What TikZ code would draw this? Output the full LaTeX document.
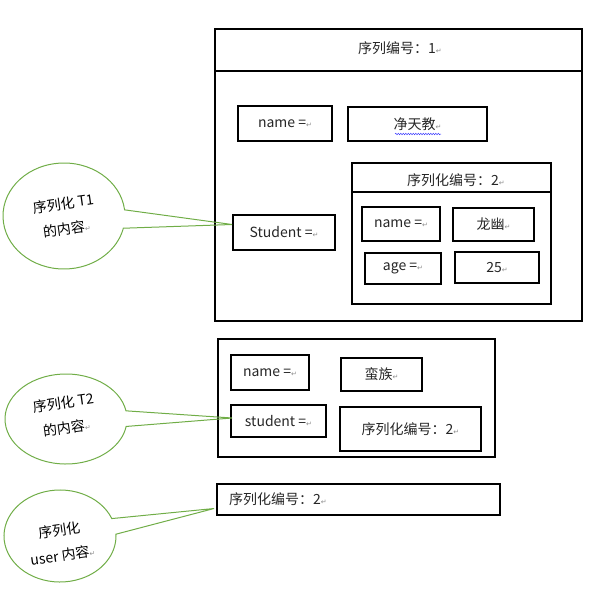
\documentclass[tikz,border=0pt]{standalone}
\usepackage{fontspec}
\setmainfont{Noto Sans CJK SC}
\newfontfamily\symf{DejaVu Sans}
\usetikzlibrary{shapes.callouts,decorations.pathmorphing}
\newcommand\ret{{\symf\color{black!45}\fontsize{7}{7}\selectfont ↵}}
\begin{document}
\begin{tikzpicture}[x=1pt,y=-1pt,line join=miter,font=\fontsize{14}{18}\selectfont,
	box/.style={draw,line width=1.9pt,inner sep=0pt,text=black!85},
	say/.style={ellipse callout,draw=callgreen,line width=1pt,callout pointer arc=20},
	word/.style={text=black!85,inner sep=0pt},
	tilt/.style={rotate=8,align=center,inner sep=0pt,font=\fontsize{14}{25}\selectfont}]
	\definecolor{callgreen}{RGB}{112,173,71}
	\useasboundingbox (0,0) rectangle (602,594);
	
	% T1
	\node[box,minimum width=367pt,minimum height=292pt] (b1) at (398.5,175) {};
	\draw[line width=1.9pt] ([yshift=-43pt]b1.north west) -- ([yshift=-43pt]b1.north east);
	\node[word] (h1) at (400,48) {序列编号：1\ret};
	\node[box,minimum width=94pt,minimum height=35pt] (n1) at (285,123.5) {name =\ret};
	\node[box,minimum width=139pt,minimum height=34pt] (v1) at (417.5,124) {净天教\ret};
	\draw[blue!75,line width=.5pt,decorate,decoration={snake,amplitude=.7pt,segment length=2.5pt}]
		(395,134) -- (441,134);
	\node[box,minimum width=102pt,minimum height=35pt] (s1) at (284,232.5) {Student =\ret};
	
	\node[box,minimum width=199pt,minimum height=141pt] (b2) at (451.5,233.5) {};
	\draw[line width=1.9pt] ([yshift=-30pt]b2.north west) -- ([yshift=-30pt]b2.north east);
	\node[word] (h2) at (456,180) {序列化编号：2\ret};
	\node[box,minimum width=78pt,minimum height=34pt] (n2) at (401,224) {name =\ret};
	\node[box,minimum width=81pt,minimum height=33pt] (v2) at (493.5,224.5) {龙幽\ret};
	\node[box,minimum width=76pt,minimum height=31pt] (a2) at (403,268.5) {age =\ret};
	\node[box,minimum width=84pt,minimum height=31pt] (g2) at (497,267.5) {25\ret};
	
	% T2
	\node[box,minimum width=277pt,minimum height=118pt] (b3) at (356.5,398) {};
	\node[box,minimum width=78pt,minimum height=35pt] (n3) at (270,372.5) {name =\ret};
	\node[box,minimum width=81pt,minimum height=33pt] (v3) at (381.5,374.5) {蛮族\ret};
	\node[box,minimum width=95pt,minimum height=32pt] (s3) at (278.5,421) {student =\ret};
	\node[box,minimum width=141pt,minimum height=44pt] (q3) at (410.5,429) {序列化编号：2\ret};
	
	% user
	\node[box,minimum width=283pt,minimum height=31pt] (ub) at (358.5,499.5) {};
	\node[word,anchor=west] (h4) at (229,499.5) {序列化编号：2\ret};
	
	% callouts
	\node[say,minimum width=122pt,minimum height=106pt,
		callout absolute pointer={([yshift=8pt]s1.west)}] (c1) at (64,216) {};
	\node[tilt] (t1) at (65,216) {序列化 T1\\的内容\ret};
	\node[say,minimum width=122pt,minimum height=90pt,
		callout absolute pointer={([xshift=2pt,yshift=3pt]s3.west)}] (c2) at (66,419) {};
	\node[tilt] (t2) at (65,415) {序列化 T2\\的内容\ret};
	\node[say,minimum width=112pt,minimum height=92pt,
		callout absolute pointer={([xshift=-2pt,yshift=-9pt]ub.west)}] (c3) at (60,536) {};
	\node[tilt] (t3) at (61,543) {序列化\\user 内容\ret};
\end{tikzpicture}
\end{document}
